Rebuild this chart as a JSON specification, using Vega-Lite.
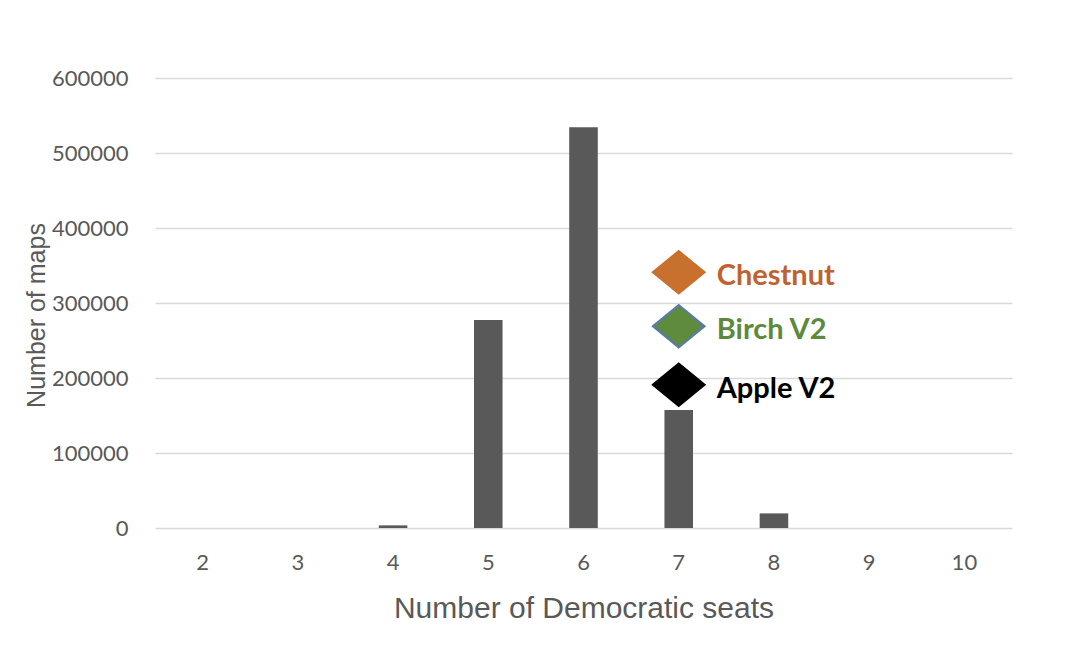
{
  "$schema": "https://vega.github.io/schema/vega-lite/v6.json",
  "width": 857,
  "height": 450,
  "autosize": {"type": "none"},
  "padding": {"left": 155, "top": 78, "right": 70, "bottom": 130},
  "background": "white",
  "config": {"view": {"stroke": null}, "font": "Lato"},
  "datasets": {
    "bars": [
      {"seats": 2, "maps": 0},
      {"seats": 3, "maps": 0},
      {"seats": 4, "maps": 3500},
      {"seats": 5, "maps": 277500},
      {"seats": 6, "maps": 534500},
      {"seats": 7, "maps": 157500},
      {"seats": 8, "maps": 19500},
      {"seats": 9, "maps": 0},
      {"seats": 10, "maps": 0}
    ],
    "markers": [
      {"seats": 7, "value": 341000, "name": "Chestnut"},
      {"seats": 7, "value": 269000, "name": "Birch V2"},
      {"seats": 7, "value": 191000, "name": "Apple V2"}
    ]
  },
  "layer": [
    {
      "data": {"name": "bars"},
      "mark": {"type": "bar", "color": "#595959"},
      "encoding": {
        "x": {
          "field": "seats",
          "type": "ordinal",
          "scale": {"paddingInner": 0.7, "paddingOuter": 0.35},
          "axis": {
            "labelAngle": 0,
            "domain": false,
            "ticks": false,
            "labelFont": "Lato",
            "labelFontSize": 22,
            "labelColor": "#595959",
            "labelPadding": 24,
            "title": "Number of Democratic seats",
            "titleFont": "Liberation Sans",
            "titleFontSize": 30,
            "titleFontWeight": "normal",
            "titleColor": "#595959",
            "titleBaseline": "alphabetic",
            "titleY": 89
          }
        },
        "y": {
          "field": "maps",
          "type": "quantitative",
          "scale": {"domain": [0, 600000]},
          "axis": {
            "values": [0, 100000, 200000, 300000, 400000, 500000, 600000],
            "format": "d",
            "grid": true,
            "gridColor": "#D9D9D9",
            "gridWidth": 1.5,
            "domain": false,
            "ticks": false,
            "labelFont": "Lato",
            "labelFontSize": 22,
            "labelColor": "#595959",
            "labelPadding": 27,
            "title": "Number of maps",
            "titleFont": "Liberation Sans",
            "titleFontSize": 25,
            "titleFontWeight": "normal",
            "titleColor": "#595959",
            "titleAngle": -90,
            "titleAlign": "center",
            "titleBaseline": "middle",
            "titleX": -119,
            "titleY": 237
          }
        }
      }
    },
    {
      "data": {"name": "markers"},
      "mark": {
        "type": "point",
        "shape": "M-1,0L0,-0.82L1,0L0,0.82Z",
        "filled": true,
        "size": 2601,
        "strokeWidth": 2.5,
        "opacity": 1
      },
      "encoding": {
        "x": {"field": "seats", "type": "ordinal"},
        "y": {"field": "value", "type": "quantitative"},
        "fill": {
          "field": "name",
          "type": "nominal",
          "scale": {"domain": ["Chestnut", "Birch V2", "Apple V2"], "range": ["#C8702E", "#5E8B3C", "#000000"]},
          "legend": null
        },
        "stroke": {
          "field": "name",
          "type": "nominal",
          "scale": {"domain": ["Chestnut", "Birch V2", "Apple V2"], "range": ["#C8702E", "#5A7C9C", "#000000"]},
          "legend": null
        }
      }
    },
    {
      "data": {"name": "markers"},
      "mark": {
        "type": "text",
        "align": "left",
        "baseline": "alphabetic",
        "dx": 38,
        "dy": 13,
        "font": "Lato",
        "fontSize": 29,
        "fontWeight": "bold"
      },
      "encoding": {
        "x": {"field": "seats", "type": "ordinal"},
        "y": {"field": "value", "type": "quantitative"},
        "text": {"field": "name"},
        "color": {
          "field": "name",
          "type": "nominal",
          "scale": {"domain": ["Chestnut", "Birch V2", "Apple V2"], "range": ["#C0622F", "#5B8A3A", "#000000"]},
          "legend": null
        }
      }
    }
  ]
}
